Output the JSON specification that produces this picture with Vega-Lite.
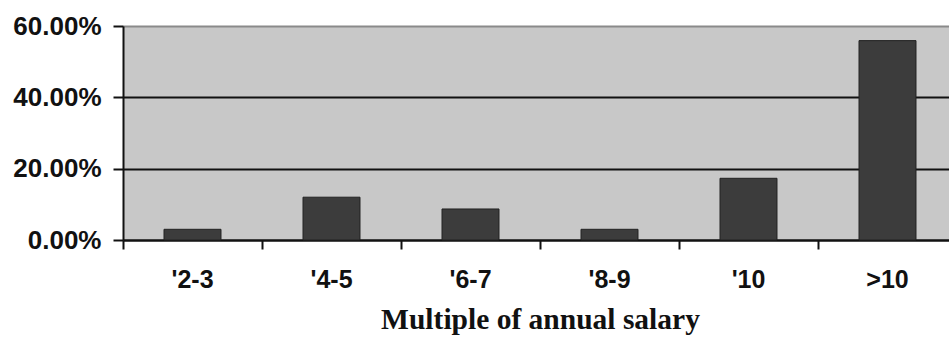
{
  "$schema": "https://vega.github.io/schema/vega-lite/v6.json",
  "autosize": "none",
  "width": 834,
  "height": 214,
  "padding": {"left": 123, "top": 26, "right": 0, "bottom": 100},
  "background": "white",
  "config": {
    "view": {"fill": "#c8c8c8", "stroke": null},
    "axis": {"labelFont": "Liberation Sans", "labelFontWeight": "bold", "labelColor": "#111", "domainColor": "#111", "tickColor": "#111"}
  },
  "data": {
    "values": [
      {"multiple": "'2-3", "share": 0.030},
      {"multiple": "'4-5", "share": 0.120},
      {"multiple": "'6-7", "share": 0.087},
      {"multiple": "'8-9", "share": 0.030},
      {"multiple": "'10", "share": 0.173},
      {"multiple": ">10", "share": 0.559}
    ]
  },
  "mark": {"type": "bar", "width": {"band": 0.41}, "color": "#3c3c3c", "stroke": "#222", "strokeWidth": 1},
  "encoding": {
    "x": {
      "field": "multiple",
      "type": "nominal",
      "sort": null,
      "scale": {"paddingInner": 0, "paddingOuter": 0},
      "axis": {
        "title": "Multiple of annual salary",
        "titleFont": "Liberation Serif",
        "titleFontSize": 29.5,
        "titleFontWeight": "bold",
        "titleColor": "#111",
        "titlePadding": 13,
        "labelAngle": 0,
        "labelFontSize": 25,
        "labelPadding": 18,
        "bandPosition": 0,
        "tickSize": 9,
        "tickWidth": 2,
        "domainWidth": 2,
        "grid": false
      }
    },
    "y": {
      "field": "share",
      "type": "quantitative",
      "scale": {"domain": [0, 0.6], "nice": false},
      "axis": {
        "title": null,
        "format": ".2%",
        "values": [0, 0.2, 0.4, 0.6],
        "labelFontSize": 26,
        "labelPadding": 12,
        "tickSize": 10,
        "tickWidth": 2,
        "domainWidth": 2,
        "grid": true,
        "gridColor": {"condition": {"test": "datum.value == 0.6", "value": "#8a8a8a"}, "value": "#111"},
        "gridWidth": 2
      }
    }
  }
}
